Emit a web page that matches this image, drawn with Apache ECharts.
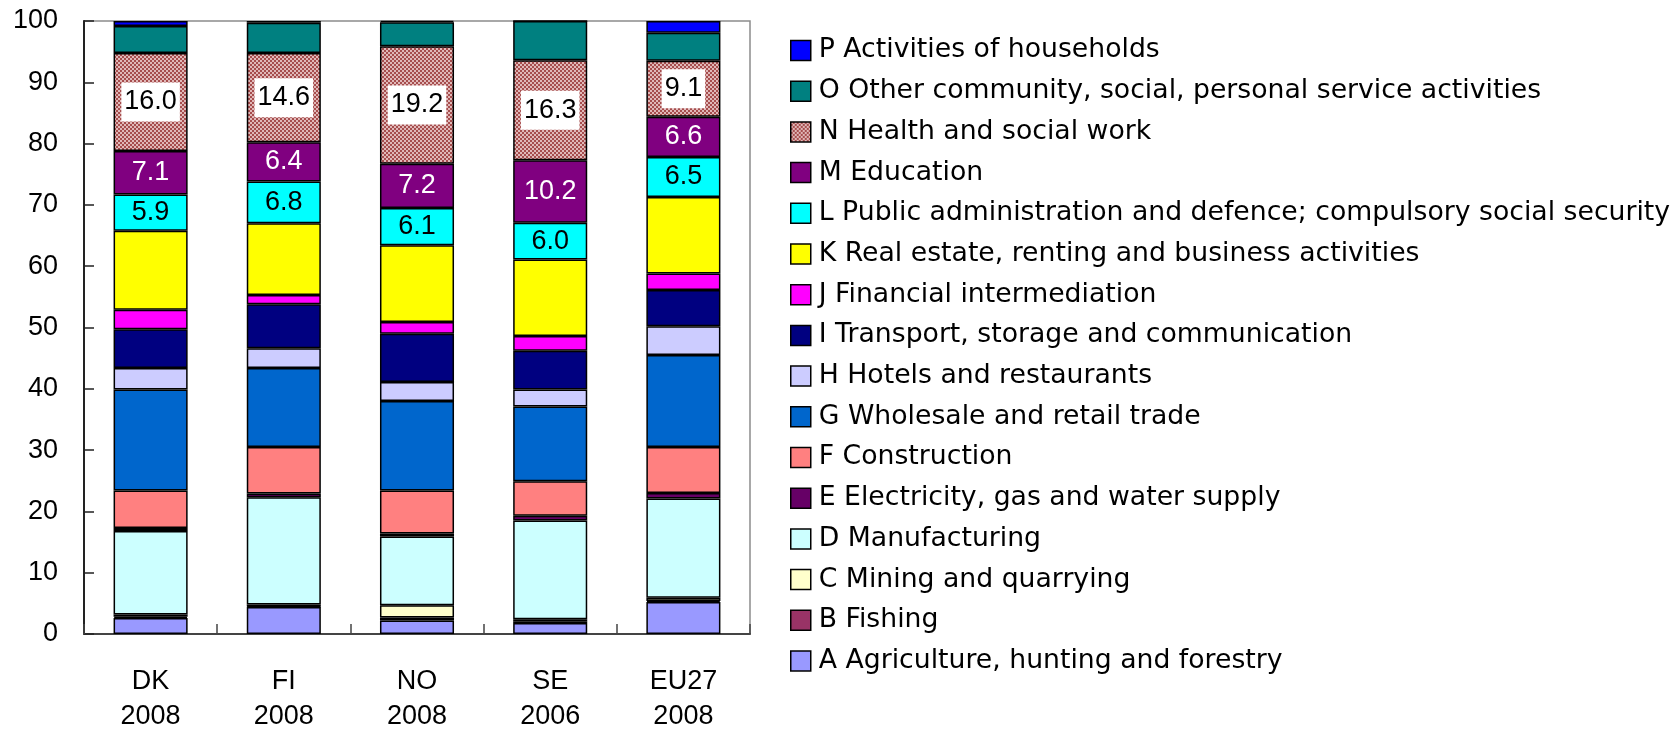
<!DOCTYPE html>
<html>
<head>
<meta charset="utf-8">
<script src="https://cdn.jsdelivr.net/npm/echarts@6/dist/echarts.min.js"></script>
<style>
html,body{margin:0;padding:0;background:#fff;}
#chart{width:1677px;height:730px;}
</style>
</head>
<body>
<div id="chart"></div>
<script>
// Categories (country / year)
const categories = ['DK\n2008', 'FI\n2008', 'NO\n2008', 'SE\n2006', 'EU27\n2008'];

// Sector names (bottom to top of stack)
const sectorNames = [
  'A Agriculture, hunting and forestry',
  'B Fishing',
  'C Mining and quarrying',
  'D Manufacturing',
  'E Electricity, gas and water supply',
  'F Construction',
  'G Wholesale and retail trade',
  'H Hotels and restaurants',
  'I Transport, storage and communication',
  'J Financial intermediation',
  'K Real estate, renting and business activities',
  'L Public administration and defence; compulsory social security',
  'M Education',
  'N Health and social work',
  'O Other community, social, personal service activities',
  'P Activities of households'
];

// Shares of employment (%), order: DK, FI, NO, SE, EU27
const valA = [2.6, 4.4, 2.2, 1.8, 5.2];
const valB = [0.2, 0.1, 0.5, 0.3, 0.2];
const valC = [0.4, 0.3, 2.0, 0.3, 0.5];
const valD = [13.6, 17.5, 11.2, 16.1, 16.2];
const valE = [0.5, 0.6, 0.5, 0.8, 0.9];
const valF = [6.1, 7.6, 7.0, 5.6, 7.5];
const valG = [16.5, 12.9, 14.6, 12.2, 15.0];
const valH = [3.5, 3.2, 3.1, 2.8, 4.7];
const valI = [6.3, 7.2, 7.9, 6.3, 5.9];
const valJ = [3.2, 1.5, 1.9, 2.4, 2.7];
const valK = [12.9, 11.7, 12.5, 12.5, 12.5];
const valL = [5.9, 6.8, 6.1, 6.0, 6.5];
const valM = [7.1, 6.4, 7.2, 10.2, 6.6];
const valN = [16.0, 14.6, 19.2, 16.3, 9.1];
const valO = [4.4, 4.9, 3.9, 6.4, 4.6];
const valP = [0.8, 0.3, 0.2, 0.0, 1.9];

const seriesValues = [valA, valB, valC, valD, valE, valF, valG, valH, valI, valJ, valK, valL, valM, valN, valO, valP];

// y-axis ticks
const yMin = 0, yMax = 100, yStep = 10;

// ---- styling ----
function hatchPattern() {
  const c = document.createElement('canvas');
  c.width = 4; c.height = 4;
  const ctx = c.getContext('2d');
  ctx.fillStyle = '#e0b8b8';
  ctx.fillRect(0, 0, 4, 4);
  ctx.fillStyle = '#a64d4d';
  for (let i = 0; i < 4; i++) {
    ctx.fillRect(i, (3 - i), 1, 1);
    ctx.fillRect(i, (i + 2) % 4, 1, 1);
  }
  return c;
}

const colors = [
  '#9999ff', '#993366', '#ffffcc', '#ccffff', '#660066', '#ff8080',
  '#0066cc', '#ccccff', '#000080', '#ff00ff', '#ffff00', '#00ffff',
  '#800080', { image: hatchPattern(), repeat: 'repeat' }, '#008080', '#0000ff'
];

const numFont = 'Liberation Sans';
const series = sectorNames.map((name, i) => {
  const letter = name.charAt(0);
  let label = { show: false };
  if (letter === 'L') {
    label = { show: true, position: 'inside', color: '#000', fontSize: 27, fontFamily: numFont,
      formatter: p => p.value.toFixed(1) };
  } else if (letter === 'M') {
    label = { show: true, position: 'inside', color: '#fff', fontSize: 27, fontFamily: numFont,
      formatter: p => p.value.toFixed(1) };
  } else if (letter === 'N') {
    label = { show: true, position: 'inside', color: '#000', fontSize: 27, fontFamily: numFont,
      backgroundColor: '#fff', padding: [7, 3, 5, 3],
      formatter: p => p.value.toFixed(1) };
  }
  return {
    name: name,
    type: 'bar',
    stack: 'total',
    barWidth: '55.6%',
    data: seriesValues[i],
    itemStyle: { color: colors[i], borderColor: '#000', borderWidth: 1.5 },
    label: label,
    emphasis: { disabled: true },
    animation: false
  };
});

const chart = echarts.init(document.getElementById('chart'), null, { renderer: 'canvas' });
chart.setOption({
  animation: false,
  backgroundColor: '#fff',
  grid: {
    left: 84, right: 927, top: 21, bottom: 96,
    outerBoundsMode: 'none',
    containLabel: false,
    show: true, borderColor: '#8c8c8c', borderWidth: 1.5, backgroundColor: 'transparent'
  },
  legend: {
    orient: 'vertical',
    left: 790,
    top: 37,
    padding: 0,
    itemWidth: 20,
    itemHeight: 20,
    itemGap: 13.7,
    icon: 'rect',
    data: sectorNames.slice().reverse(),
    textStyle: { fontFamily: 'DejaVu Sans', fontSize: 26.7, color: '#000', padding: [0, 0, 0, 3] },
    itemStyle: { borderColor: '#000', borderWidth: 1.5 },
    selectedMode: false
  },
  xAxis: {
    type: 'category',
    data: categories,
    axisLine: { lineStyle: { color: '#444', width: 2 } },
    axisTick: { show: true, inside: true, length: 10, lineStyle: { color: '#444', width: 1.5 } },
    axisLabel: { fontFamily: numFont, fontSize: 27, color: '#000', lineHeight: 35, margin: 30 }
  },
  yAxis: {
    type: 'value',
    min: yMin, max: yMax, interval: yStep,
    axisLine: { show: true, lineStyle: { color: '#222', width: 2 } },
    axisTick: { show: true, inside: true, length: 10, lineStyle: { color: '#222', width: 1.5 } },
    splitLine: { show: false },
    axisLabel: { fontFamily: numFont, fontSize: 27, color: '#000', margin: 26 }
  },
  series: series
});
</script>
</body>
</html>
